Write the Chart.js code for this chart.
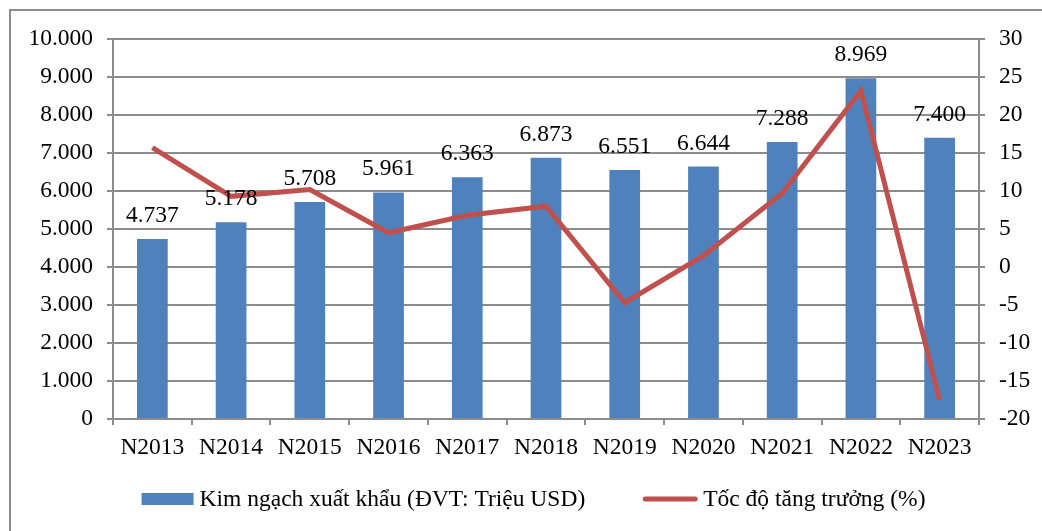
<!DOCTYPE html>
<html>
<head>
<meta charset="utf-8">
<script src="https://cdn.jsdelivr.net/npm/chart.js@4"></script>
<style>
  html, body { margin: 0; padding: 0; background: #fff; overflow: hidden; }
  #wrap { position: relative; width: 1042px; height: 531px; }
</style>
</head>
<body>
<div id="wrap"><canvas id="c" width="1042" height="531"></canvas></div>
<script>
const categories = ['N2013','N2014','N2015','N2016','N2017','N2018','N2019','N2020','N2021','N2022','N2023'];
const exportValues = [4737, 5178, 5708, 5961, 6363, 6873, 6551, 6644, 7288, 8969, 7400];
const growthRates = [15.7, 9.3, 10.2, 4.5, 6.8, 8.0, -4.7, 1.5, 9.7, 23.2, -17.5];
const leftTickLabels = ['0','1.000','2.000','3.000','4.000','5.000','6.000','7.000','8.000','9.000','10.000'];
const rightTickLabels = ['-20','-15','-10','-5','0','5','10','15','20','25','30'];
const barLabel = 'Kim ngạch xuất khẩu (ĐVT: Triệu USD)';
const lineLabel = 'Tốc độ tăng trưởng (%)';

const FONT = '"Liberation Serif", "Times New Roman", serif';
const FSIZE = 23.5;
const GRID = '#8c8c8c';

function fmt(v) { return v.toString().replace(/\B(?=(\d{3})+(?!\d))/g, '.'); }

const frame = {
  id: 'frame',
  beforeDraw(chart) {
    const ctx = chart.ctx;
    ctx.save();
    ctx.strokeStyle = GRID;
    ctx.lineWidth = 2;
    ctx.strokeRect(10, 10, 1200, 700);
    ctx.restore();
  }
};

const barLabels = {
  id: 'barLabels',
  afterDatasetsDraw(chart) {
    const ctx = chart.ctx;
    const meta = chart.getDatasetMeta(0);
    ctx.save();
    ctx.font = FSIZE + 'px ' + FONT;
    ctx.fillStyle = '#000';
    ctx.textAlign = 'center';
    ctx.textBaseline = 'alphabetic';
    meta.data.forEach((bar, i) => {
      ctx.fillText(fmt(exportValues[i]), bar.x, bar.y - 17);
    });
    ctx.restore();
  }
};

// Legend drawn from the datasets' own labels and colours
const bottomLegend = {
  id: 'bottomLegend',
  afterDraw(chart) {
    const ctx = chart.ctx;
    const ds = chart.data.datasets;
    ctx.save();
    ctx.font = FSIZE + 'px ' + FONT;
    ctx.textBaseline = 'middle';
    ctx.textAlign = 'left';
    const w1 = ctx.measureText(ds[0].label).width;
    const w2 = ctx.measureText(ds[1].label).width;
    const boxW = 52, lineW = 54, gapText = 6, gapItems = 58;
    const total = boxW + gapText + w1 + gapItems + lineW + gapText + w2;
    let x = 533.5 - total / 2;
    const cy = 499;
    ctx.fillStyle = ds[0].backgroundColor;
    ctx.fillRect(x, cy - 6, boxW, 12);
    x += boxW + gapText;
    ctx.fillStyle = '#000';
    ctx.fillText(ds[0].label, x, cy + 1);
    x += w1 + gapItems;
    ctx.strokeStyle = ds[1].borderColor;
    ctx.lineWidth = ds[1].borderWidth;
    ctx.lineCap = 'round';
    ctx.beginPath();
    ctx.moveTo(x + 2, cy);
    ctx.lineTo(x + lineW - 2, cy);
    ctx.stroke();
    x += lineW + gapText;
    ctx.fillText(ds[1].label, x, cy + 1);
    ctx.restore();
  }
};

new Chart(document.getElementById('c'), {
  type: 'bar',
  data: {
    labels: categories,
    datasets: [
      {
        type: 'bar',
        label: barLabel,
        data: exportValues,
        backgroundColor: '#4F81BD',
        borderWidth: 0,
        yAxisID: 'y',
        barPercentage: 0.39,
        categoryPercentage: 1,
        order: 1
      },
      {
        type: 'line',
        label: lineLabel,
        data: growthRates,
        borderColor: '#C0504D',
        backgroundColor: '#C0504D',
        borderWidth: 5,
        pointRadius: 0,
        tension: 0,
        yAxisID: 'y1',
        order: 0
      }
    ]
  },
  options: {
    responsive: false,
    animation: false,
    layout: { padding: { top: 39, bottom: 0, left: 0, right: 0 } },
    plugins: {
      tooltip: { enabled: false },
      legend: { display: false }
    },
    scales: {
      x: {
        offset: true,
        grid: { offset: true, drawOnChartArea: false, drawTicks: true, tickLength: 6, color: GRID, lineWidth: 2 },
        border: { display: true, color: GRID, width: 2 },
        ticks: { font: { family: FONT, size: FSIZE }, color: '#000', padding: 9, maxRotation: 0, autoSkip: false },
        afterFit(scale) { scale.height = 112; }
      },
      y: {
        position: 'left',
        min: 0, max: 10000,
        grid: { color: GRID, lineWidth: 2, tickLength: 6 },
        border: { display: true, color: GRID, width: 2 },
        ticks: {
          stepSize: 1000,
          font: { family: FONT, size: FSIZE }, color: '#000', padding: 14,
          callback: (v) => leftTickLabels[Math.round(v / 1000)]
        },
        afterFit(scale) { scale.width = 113; }
      },
      y1: {
        position: 'right',
        min: -20, max: 30,
        grid: { drawOnChartArea: false, color: GRID, lineWidth: 2, tickLength: 6 },
        border: { display: true, color: GRID, width: 2 },
        ticks: {
          stepSize: 5,
          font: { family: FONT, size: FSIZE }, color: '#000', padding: 14,
          callback: (v) => rightTickLabels[Math.round((v + 20) / 5)]
        },
        afterFit(scale) { scale.width = 63; }
      }
    }
  },
  plugins: [frame, barLabels, bottomLegend]
});
</script>
</body>
</html>
